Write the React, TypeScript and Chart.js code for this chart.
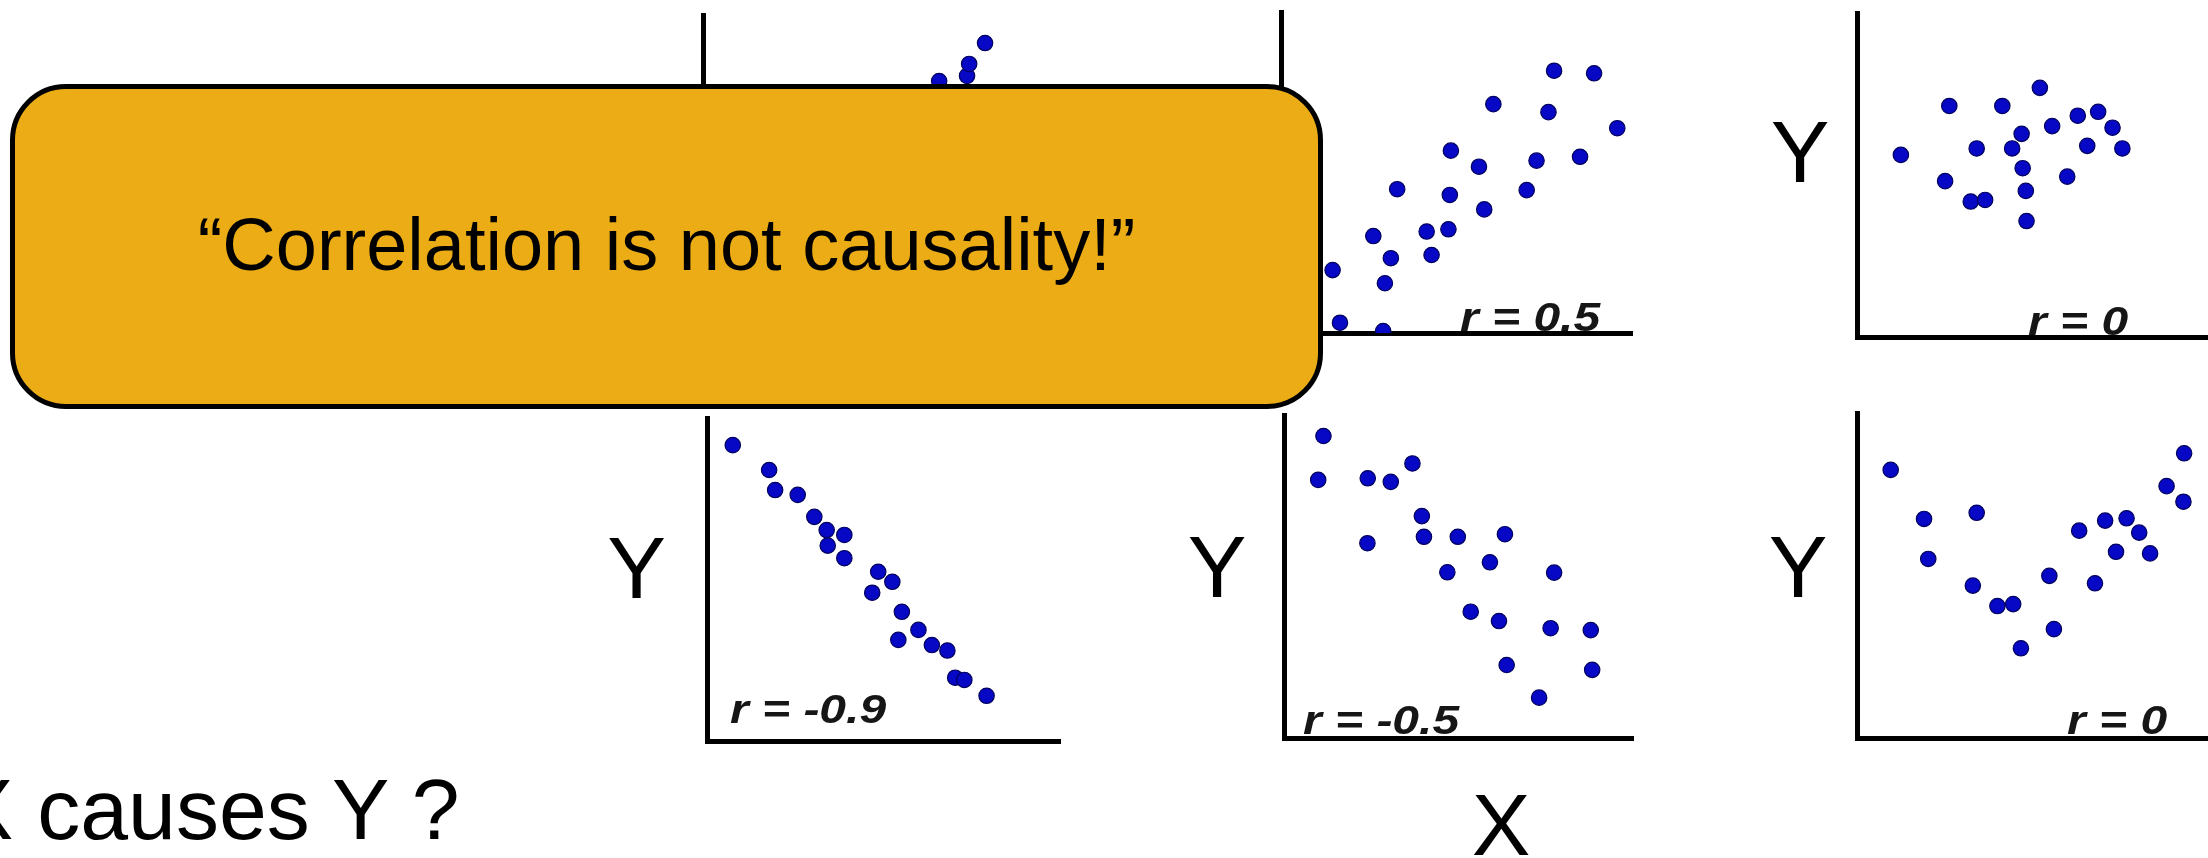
import React, { useEffect, useRef } from "react";
import { Chart, registerables } from "chart.js";

Chart.register(...registerables);

// ---- data (units: 0..10 on each panel's x and y axes) ----
// top-left panel (mostly hidden behind the callout box)
const tlX = [6.69, 7.48, 7.54, 7.99];
const tlY = [7.95, 8.11, 8.48, 9.13];

// top-middle panel, r = 0.5
const tmX = [1.47, 1.68, 2.91, 2.96, 3.13, 2.63, 3.31, 4.15, 4.29, 4.77, 4.81, 4.84, 5.64, 5.79, 6.05, 7.0, 7.28, 7.62, 7.78, 8.52, 8.92, 9.58];
const tmY = [1.96, 0.32, 0.06, 1.55, 2.33, 3.02, 4.48, 3.16, 2.43, 3.23, 4.3, 5.68, 5.18, 3.85, 7.13, 4.45, 5.37, 6.88, 8.17, 5.49, 8.09, 6.38];

// top-right panel, r = 0
const trX = [1.25, 2.63, 3.41, 2.51, 3.24, 3.65, 4.14, 4.69, 4.42, 4.72, 4.81, 4.83, 5.21, 5.56, 5.99, 6.29, 6.87, 6.56, 7.28, 7.56];
const trY = [5.62, 7.13, 5.82, 4.81, 4.18, 4.23, 7.13, 6.27, 5.82, 5.21, 4.51, 3.58, 7.69, 6.51, 4.95, 6.83, 6.95, 5.9, 6.46, 5.82];

// bottom-left panel, r = -0.9
const blX = [0.73, 1.76, 1.93, 2.57, 3.04, 3.39, 3.89, 3.42, 3.89, 4.85, 5.25, 4.68, 5.52, 5.99, 5.42, 6.37, 6.81, 7.03, 7.29, 7.92];
const blY = [9.16, 8.39, 7.77, 7.62, 6.94, 6.53, 6.38, 6.05, 5.66, 5.24, 4.93, 4.59, 4.0, 3.44, 3.13, 2.97, 2.8, 1.96, 1.89, 1.4];

// bottom-middle panel, r = -0.5
const bmX = [1.13, 0.98, 2.4, 3.06, 3.68, 2.39, 3.95, 4.01, 4.98, 6.33, 5.9, 4.68, 7.74, 5.35, 6.16, 7.64, 8.79, 6.38, 8.83, 7.31];
const bmY = [9.35, 7.99, 8.04, 7.93, 8.5, 6.03, 6.87, 6.23, 6.23, 6.31, 5.44, 5.13, 5.12, 3.91, 3.62, 3.4, 3.34, 2.26, 2.11, 1.25];

// bottom-right panel, r = 0 (U-shape)
const brX = [0.96, 1.91, 2.03, 3.41, 3.3, 4.0, 4.45, 4.67, 5.48, 5.61, 6.33, 6.78, 7.07, 7.38, 7.68, 8.04, 8.35, 8.82, 9.3, 9.32];
const brY = [8.25, 6.74, 5.51, 6.93, 4.69, 4.06, 4.12, 2.76, 4.99, 3.35, 6.38, 4.76, 6.69, 5.73, 6.76, 6.32, 5.68, 7.75, 7.27, 8.76];

const rLabels = ["r = 0.5", "r = 0", "r = -0.9", "r = -0.5", "r = 0"];
const calloutText = "\u201cCorrelation is not causality!\u201d";
const questionText = "X causes Y ?";
const axisLetterY = "Y";
const axisLetterX = "X";

// ---- layout / style ----
const PAD = 24;
const FONT = '"Liberation Sans", Arial, Helvetica, sans-serif';
const DOT = "#0707c6";
const DOT_EDGE = "#00005e";
const BOX_FILL = "#ECAC15";

type Geo = { x: number; y: number; w: number; h: number };

const panels: { xs: number[]; ys: number[]; g: Geo }[] = [
  { xs: tlX, ys: tlY, g: { x: 703, y: 15, w: 353, h: 322 } },
  { xs: tmX, ys: tmY, g: { x: 1281, y: 12, w: 351, h: 321 } },
  { xs: trX, ys: trY, g: { x: 1857, y: 13, w: 351, h: 324 } },
  { xs: blX, ys: blY, g: { x: 707, y: 418, w: 353, h: 323 } },
  { xs: bmX, ys: bmY, g: { x: 1284, y: 415, w: 349, h: 323 } },
  { xs: brX, ys: brY, g: { x: 1857, y: 413, w: 351, h: 325 } },
];

function Panel({ xs, ys, g }: { xs: number[]; ys: number[]; g: Geo }) {
  const ref = useRef<HTMLCanvasElement | null>(null);
  useEffect(() => {
    if (!ref.current) return;
    const pts = xs.map((x, i) => ({ x, y: ys[i] }));
    const axis = {
      type: "linear" as const,
      min: 0,
      max: 10,
      grid: { display: false, drawTicks: false, tickLength: 0 },
      ticks: { display: false },
      border: { display: true, color: "#000", width: 5 },
    };
    const chart = new Chart(ref.current, {
      type: "scatter",
      data: {
        datasets: [
          {
            data: pts,
            pointRadius: 7.7,
            pointHoverRadius: 7.7,
            pointBackgroundColor: DOT,
            pointBorderColor: DOT_EDGE,
            pointBorderWidth: 1.2,
          },
        ],
      },
      options: {
        animation: false,
        responsive: false,
        maintainAspectRatio: false,
        devicePixelRatio: 1,
        events: [],
        layout: { padding: PAD },
        plugins: { legend: { display: false }, tooltip: { enabled: false } },
        scales: { x: { ...axis, position: "bottom" }, y: { ...axis, position: "left" } },
      },
    });
    return () => chart.destroy();
  }, []);
  const W = g.w + PAD * 2;
  const H = g.h + PAD * 2;
  return (
    <canvas
      ref={ref}
      width={W}
      height={H}
      style={{ position: "absolute", left: g.x - PAD, top: g.y - PAD, width: W, height: H }}
    />
  );
}

function BigText({ text, cx, baseline }: { text: string; cx: number; baseline: number }) {
  return (
    <div
      style={{
        position: "absolute",
        left: cx - 100,
        width: 200,
        top: baseline - 74.5,
        fontFamily: FONT,
        fontSize: 88,
        lineHeight: "88px",
        textAlign: "center",
        color: "#000",
        whiteSpace: "nowrap",
      }}
    >
      {text}
    </div>
  );
}

function RLabel({ text, left, baseline }: { text: string; left: number; baseline: number }) {
  return (
    <div
      style={{
        position: "absolute",
        left,
        top: baseline - 33.9,
        fontFamily: FONT,
        fontSize: 40,
        lineHeight: "40px",
        fontStyle: "italic",
        fontWeight: "bold",
        color: "#161616",
        whiteSpace: "nowrap",
        transform: "scaleX(1.2)",
        transformOrigin: "left center",
      }}
    >
      {text}
    </div>
  );
}

export default function App() {
  return (
    <div
      style={{
        position: "absolute",
        left: 0,
        top: 0,
        width: 2208,
        height: 858,
        overflow: "hidden",
        background: "#fff",
      }}
    >
      {panels.map((p, i) => (
        <Panel key={i} xs={p.xs} ys={p.ys} g={p.g} />
      ))}

      <RLabel text={rLabels[0]} left={1460} baseline={331} />
      <RLabel text={rLabels[1]} left={2028} baseline={335} />
      <RLabel text={rLabels[2]} left={730} baseline={723} />
      <RLabel text={rLabels[3]} left={1303} baseline={734} />
      <RLabel text={rLabels[4]} left={2067} baseline={734} />

      <BigText text={axisLetterY} cx={1800} baseline={182} />
      <BigText text={axisLetterY} cx={636.5} baseline={598} />
      <BigText text={axisLetterY} cx={1217} baseline={597} />
      <BigText text={axisLetterY} cx={1798} baseline={597} />
      <BigText text={axisLetterX} cx={1501} baseline={855} />

      <div
        style={{
          position: "absolute",
          left: -44,
          top: 839 - 72.8,
          fontFamily: FONT,
          fontSize: 86,
          lineHeight: "86px",
          color: "#000",
          whiteSpace: "nowrap",
        }}
      >
        {questionText}
      </div>

      <div
        style={{
          position: "absolute",
          left: 10,
          top: 84,
          width: 1313,
          height: 325,
          boxSizing: "border-box",
          border: "5px solid #000",
          borderRadius: 56,
          background: BOX_FILL,
        }}
      />
      <div
        style={{
          position: "absolute",
          left: 10,
          width: 1313,
          top: 271 - 62.6,
          fontFamily: FONT,
          fontSize: 74,
          lineHeight: "74px",
          textAlign: "center",
          color: "#000",
          whiteSpace: "nowrap",
        }}
      >
        {calloutText}
      </div>
    </div>
  );
}
